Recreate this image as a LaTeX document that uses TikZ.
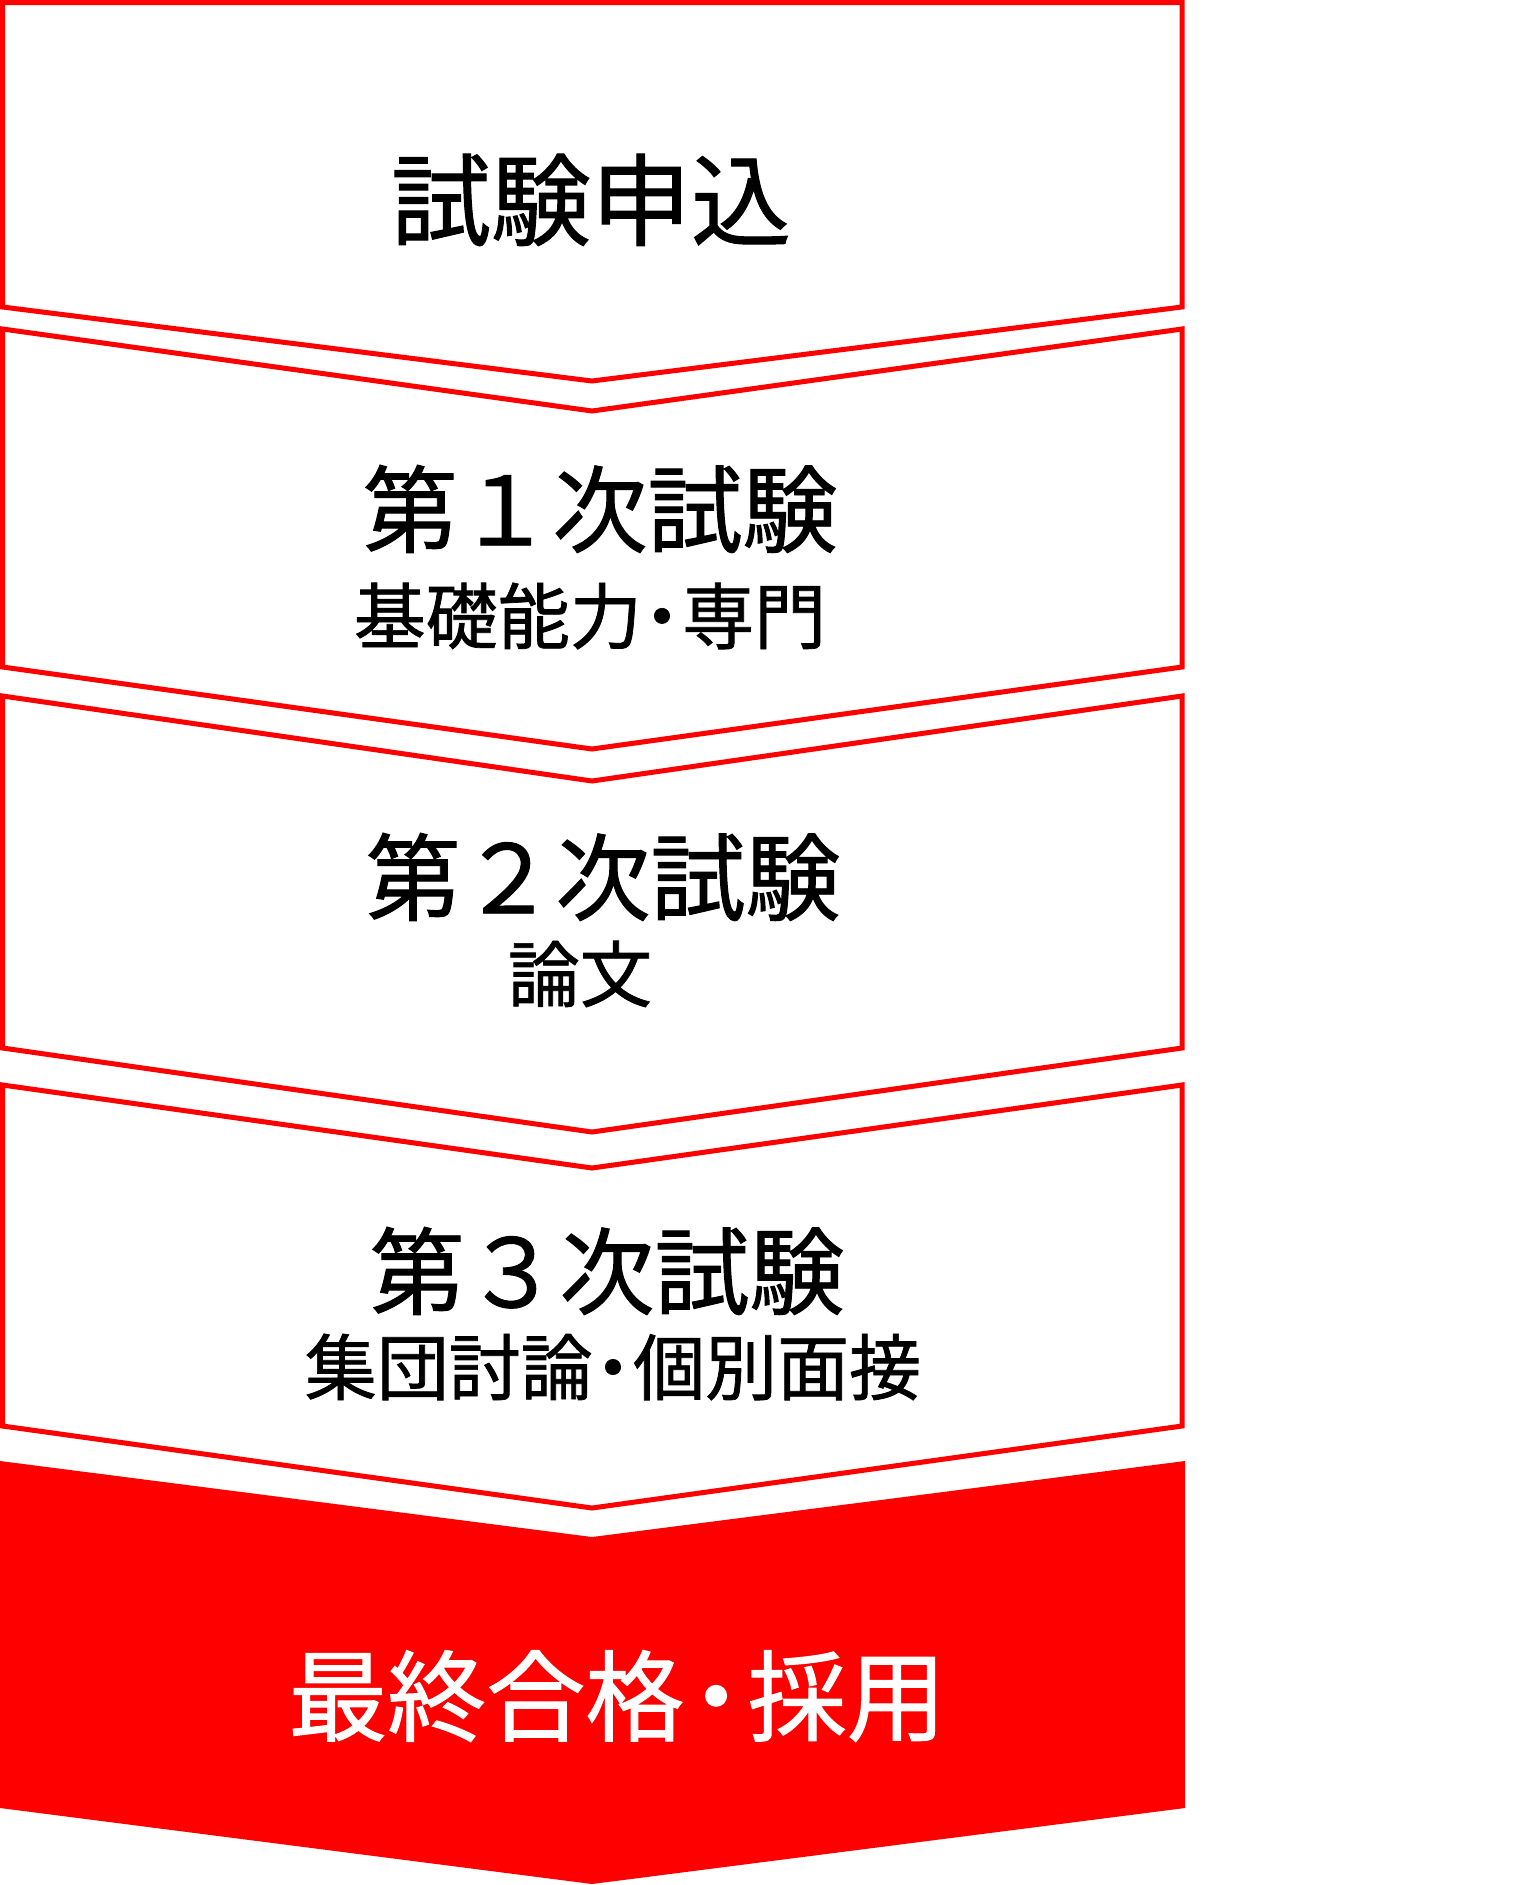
\documentclass[tikz,border=0pt]{standalone}
\usepackage{fontspec}
\setmainfont{Noto Sans CJK JP}[FakeBold=1]
\newcommand{\nakaguro}[1][.22em]{\kern-#1・\kern-#1}
\begin{document}
\begin{tikzpicture}[x=1pt,y=-1pt,
  stage/.style={draw=red, line width=5pt, line join=miter, fill=white},
  goal/.style={fill=red},
  title/.style={inner sep=0pt, font=\fontsize{95}{100}\selectfont},
  sub/.style={inner sep=0pt, font=\fontsize{72}{76}\selectfont}]
\useasboundingbox (0,0) rectangle (1538,1885);
\draw[stage] (2.5,2.5) -- (1182,2.5) -- (1182,307) -- (592,381) -- (2.5,307) -- cycle;
\draw[stage] (2.5,329) -- (592,411) -- (1182,329) -- (1182,667) -- (592,749) -- (2.5,667) -- cycle;
\draw[stage] (2.5,696) -- (592,781) -- (1182,696) -- (1182,1048) -- (592,1132) -- (2.5,1048) -- cycle;
\draw[stage] (2.5,1085) -- (592,1168) -- (1182,1085) -- (1182,1426) -- (592,1508) -- (2.5,1426) -- cycle;
\fill[goal] (0,1461) -- (592,1537) -- (1185,1461) -- (1185,1808) -- (592,1884) -- (0,1808) -- cycle;
\node[title, font=\fontsize{100}{104}\selectfont] (apply) at (591,200) {試験申込};
\node[title] (first) at (600,509) {第１次試験};
\node[sub] (firstsub) at (590,616) {基礎能力\nakaguro 専門};
\node[title] (second) at (603,877) {第２次試験};
\node[sub] (secondsub) at (580,974) {論文};
\node[title] (third) at (607,1271) {第３次試験};
\node[sub] (thirdsub) at (613,1367) {集団討論\nakaguro 個別面接};
\node[title, text=white, font=\fontsize{99}{103}\selectfont] (final) at (617,1696) {最終合格\nakaguro[.18em] 採用};
\end{tikzpicture}
\end{document}
